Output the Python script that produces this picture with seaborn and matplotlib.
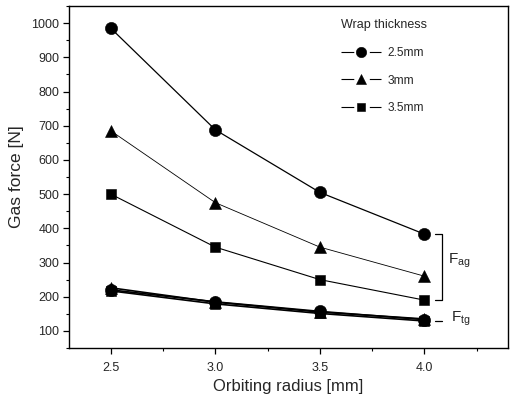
import matplotlib
matplotlib.use("Agg")
import matplotlib.pyplot as plt
from matplotlib.ticker import MultipleLocator
from matplotlib.lines import Line2D
import pandas as pd
import seaborn as sns

# Orbiting radius values [mm]
radius = [2.5, 3.0, 3.5, 4.0]
thickness_labels = ["2.5mm", "3mm", "3.5mm"]

# Axial gas force F_ag [N] for each wrap thickness
fag_25 = [985, 688, 505, 383]
fag_30 = [685, 475, 345, 260]
fag_35 = [500, 345, 250, 190]

# Tangential gas force F_tg [N] for each wrap thickness
ftg_25 = [220, 185, 157, 133]
ftg_30 = [226, 184, 155, 135]
ftg_35 = [217, 179, 151, 129]

sns.set_style("ticks")
plt.rcParams["font.family"] = ["Liberation Sans", "DejaVu Sans"]
plt.rcParams["mathtext.fontset"] = "custom"
plt.rcParams["mathtext.rm"] = "Liberation Sans"
plt.rcParams["mathtext.it"] = "Liberation Sans"

fig = plt.figure(figsize=(5.11, 3.98), dpi=100)
ax = fig.add_axes([69 / 511, 1 - 348 / 398, (508 - 69) / 511, (348 - 6) / 398])

markers = ["o", "^", "s"]
msizes = [8.8, 9.2, 7.6]
lws_top = [0.9, 0.6, 0.8]
fag = [fag_25, fag_30, fag_35]
ftg = [ftg_25, ftg_30, ftg_35]

for lab, mk, ms, lw, ya, yt in zip(thickness_labels, markers, msizes, lws_top, fag, ftg):
    d_a = pd.DataFrame({"r": radius, "F": ya})
    d_t = pd.DataFrame({"r": radius, "F": yt})
    sns.lineplot(data=d_a, x="r", y="F", ax=ax, color="black", lw=lw,
                 marker=mk, markersize=ms, markeredgecolor="black",
                 markeredgewidth=0.4, markerfacecolor="black", legend=False)
    sns.lineplot(data=d_t, x="r", y="F", ax=ax, color="black", lw=1.2,
                 marker=mk, markersize=ms, markeredgecolor="black",
                 markeredgewidth=0.4, markerfacecolor="black", legend=False)

ax.set_xlim(2.3, 4.4)
ax.set_ylim(50, 1050)
ax.xaxis.set_minor_locator(MultipleLocator(0.25))
ax.yaxis.set_minor_locator(MultipleLocator(50))
ax.set_xticks([2.5, 3.0, 3.5, 4.0])
ax.set_xticklabels(["2.5", "3.0", "3.5", "4.0"])
ax.set_yticks(range(100, 1001, 100))
ax.set_yticklabels([str(v) for v in range(100, 1001, 100)])

ax.tick_params(axis="both", which="major", direction="out", length=4,
               width=0.9, labelsize=9, color="black")
ax.tick_params(axis="both", which="minor", direction="out", length=2.5,
               width=0.8, color="black")
ax.tick_params(axis="x", which="major", pad=6)
ax.tick_params(axis="y", which="major", pad=3)
for sp in ax.spines.values():
    sp.set_visible(True)
    sp.set_linewidth(1.0)
    sp.set_color("black")

ax.set_xlabel("Orbiting radius [mm]", fontsize=12, labelpad=4)
ax.set_ylabel("Gas force [N]", fontsize=12.5, labelpad=5)

# Legend: line segments broken around each marker
handles = []
for mk, ms in zip(markers, msizes):
    handles.append(Line2D([], [], color="black", lw=0.8, marker=mk,
                          markersize=ms * 0.85, markerfacecolor="black",
                          markeredgecolor="black", markeredgewidth=0.4,
                          linestyle=(0, (11.5, 14))))
leg = ax.legend(handles, thickness_labels, title="Wrap thickness",
                loc="upper left", bbox_to_anchor=(0.6, 0.985), frameon=False,
                fontsize=8.6, title_fontsize=9, handlelength=3.4,
                handletextpad=0.5, labelspacing=1.3, borderpad=0.2)
leg._legend_box.align = "left"

# Brackets marking the axial and tangential force groups
bx = 4.085
ax.plot([bx - 0.035, bx, bx, bx - 0.035], [383, 383, 190, 190],
        color="black", lw=0.9)
ax.text(bx + 0.03, 305, r"$\mathrm{F_{ag}}$", fontsize=11, va="center", ha="left")
ax.plot([bx - 0.035, bx], [130, 130], color="black", lw=0.9)
ax.text(bx + 0.04, 136, r"$\mathrm{F_{tg}}$", fontsize=11, va="center", ha="left")

fig.savefig("out.png", dpi=100)
